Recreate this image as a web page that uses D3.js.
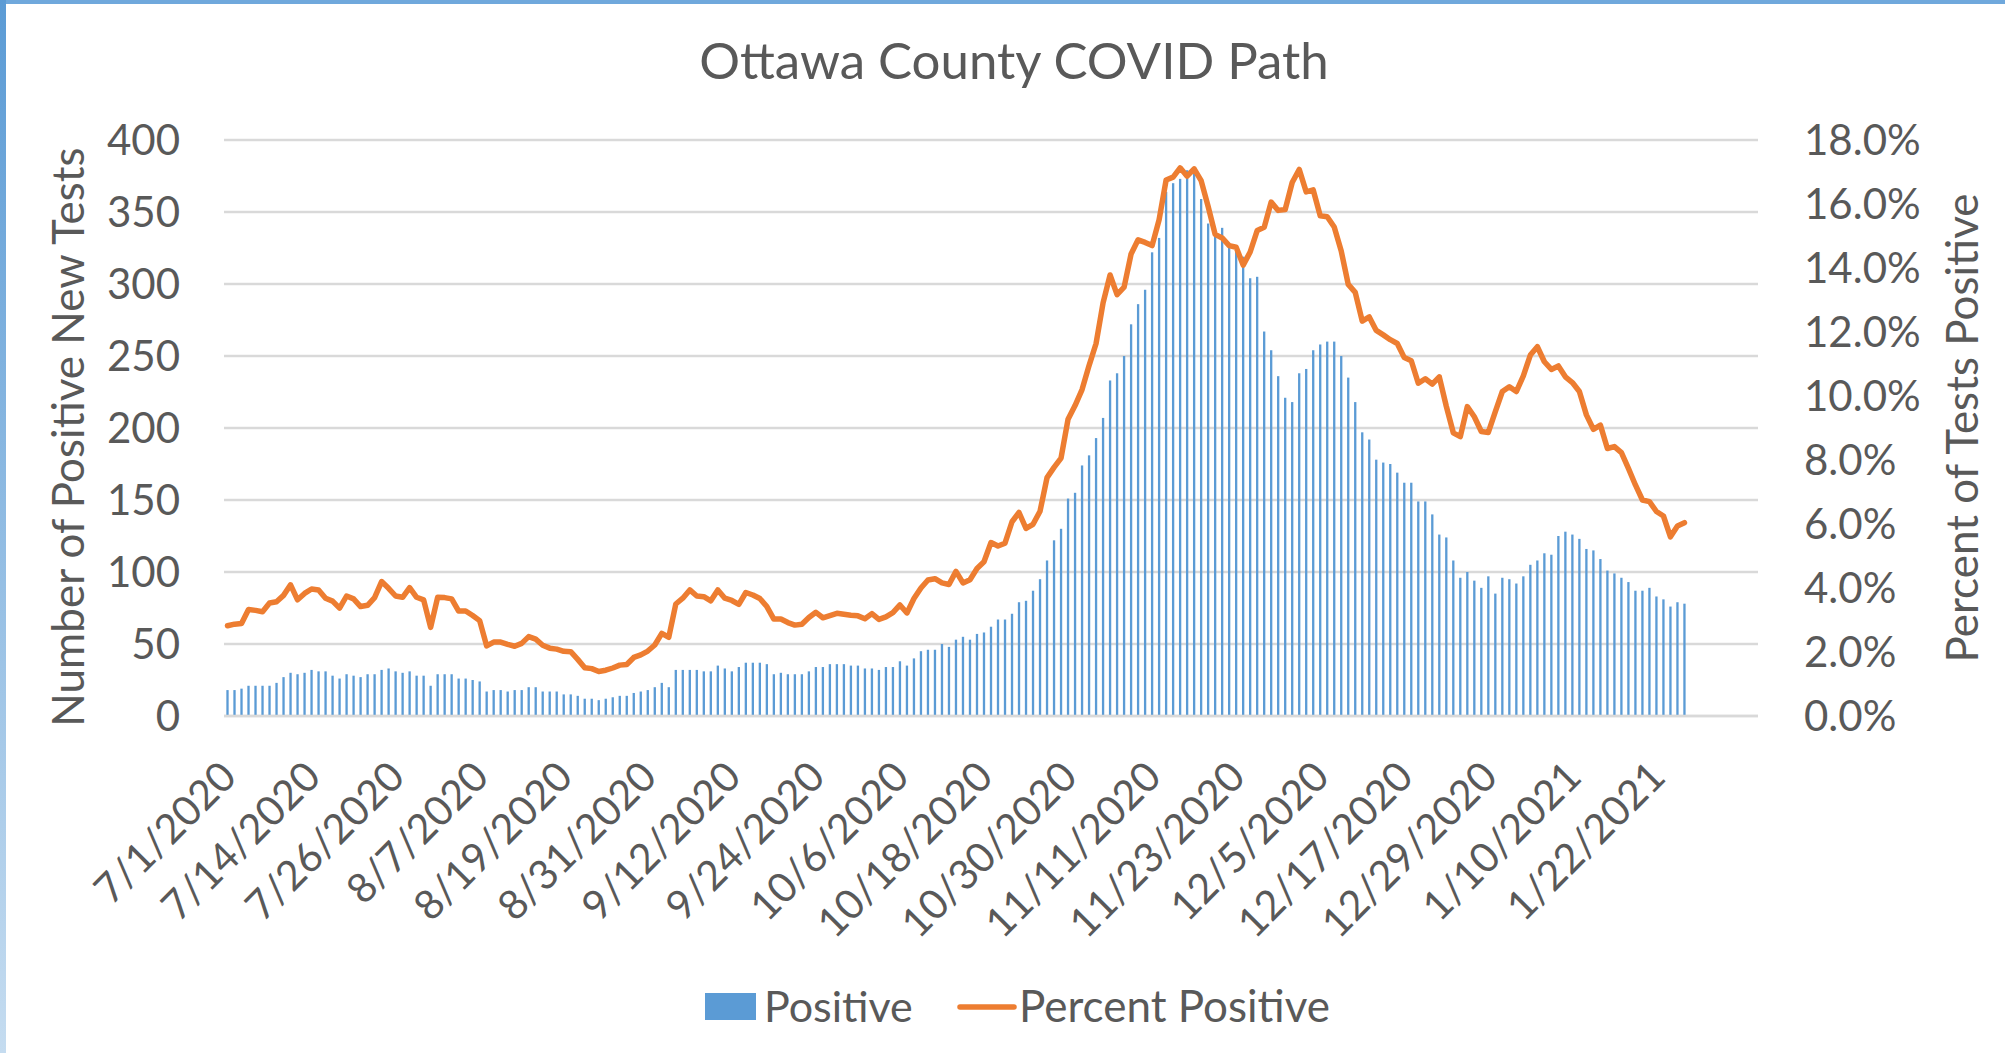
<!DOCTYPE html>
<html>
<head>
<meta charset="utf-8">
<script src="https://cdn.jsdelivr.net/npm/d3@7"></script>
<style>
  html, body { margin: 0; padding: 0; background: #ffffff; }
  svg { display: block; }
  text { font-family: Lato, "Open Sans", sans-serif; fill: #595959; }
</style>
</head>
<body>
<svg id="chart" width="2005" height="1053"></svg>
<script>
// ---------------- DATA ----------------
const categories = [
  "7/1/2020","7/2/2020","7/3/2020","7/5/2020","7/6/2020","7/7/2020","7/8/2020","7/9/2020","7/10/2020","7/11/2020",
  "7/12/2020","7/13/2020","7/14/2020","7/15/2020","7/16/2020","7/17/2020","7/18/2020","7/19/2020","7/20/2020","7/21/2020",
  "7/22/2020","7/23/2020","7/24/2020","7/25/2020","7/26/2020","7/27/2020","7/28/2020","7/29/2020","7/30/2020","7/31/2020",
  "8/1/2020","8/2/2020","8/3/2020","8/4/2020","8/5/2020","8/6/2020","8/7/2020","8/8/2020","8/9/2020","8/10/2020",
  "8/11/2020","8/12/2020","8/13/2020","8/14/2020","8/15/2020","8/16/2020","8/17/2020","8/18/2020","8/19/2020","8/20/2020",
  "8/21/2020","8/22/2020","8/23/2020","8/24/2020","8/25/2020","8/26/2020","8/27/2020","8/28/2020","8/29/2020","8/30/2020",
  "8/31/2020","9/1/2020","9/2/2020","9/3/2020","9/4/2020","9/5/2020","9/6/2020","9/7/2020","9/8/2020","9/9/2020",
  "9/10/2020","9/11/2020","9/12/2020","9/13/2020","9/14/2020","9/15/2020","9/16/2020","9/17/2020","9/18/2020","9/19/2020",
  "9/20/2020","9/21/2020","9/22/2020","9/23/2020","9/24/2020","9/25/2020","9/26/2020","9/27/2020","9/28/2020","9/29/2020",
  "9/30/2020","10/1/2020","10/2/2020","10/3/2020","10/4/2020","10/5/2020","10/6/2020","10/7/2020","10/8/2020","10/9/2020",
  "10/10/2020","10/11/2020","10/12/2020","10/13/2020","10/14/2020","10/15/2020","10/16/2020","10/17/2020","10/18/2020","10/19/2020",
  "10/20/2020","10/21/2020","10/22/2020","10/23/2020","10/24/2020","10/25/2020","10/26/2020","10/27/2020","10/28/2020","10/29/2020",
  "10/30/2020","10/31/2020","11/1/2020","11/2/2020","11/3/2020","11/4/2020","11/5/2020","11/6/2020","11/7/2020","11/8/2020",
  "11/9/2020","11/10/2020","11/11/2020","11/12/2020","11/13/2020","11/14/2020","11/15/2020","11/16/2020","11/17/2020","11/18/2020",
  "11/19/2020","11/20/2020","11/21/2020","11/22/2020","11/23/2020","11/24/2020","11/25/2020","11/26/2020","11/27/2020","11/28/2020",
  "11/29/2020","11/30/2020","12/1/2020","12/2/2020","12/3/2020","12/4/2020","12/5/2020","12/6/2020","12/7/2020","12/8/2020",
  "12/9/2020","12/10/2020","12/11/2020","12/12/2020","12/13/2020","12/14/2020","12/15/2020","12/16/2020","12/17/2020","12/18/2020",
  "12/19/2020","12/20/2020","12/21/2020","12/22/2020","12/23/2020","12/24/2020","12/25/2020","12/26/2020","12/27/2020","12/28/2020",
  "12/29/2020","12/30/2020","12/31/2020","1/1/2021","1/2/2021","1/3/2021","1/4/2021","1/5/2021","1/6/2021","1/7/2021",
  "1/8/2021","1/9/2021","1/10/2021","1/11/2021","1/12/2021","1/13/2021","1/14/2021","1/15/2021","1/16/2021","1/17/2021",
  "1/18/2021","1/19/2021","1/20/2021","1/21/2021","1/22/2021","1/23/2021","1/24/2021","1/25/2021","1/26/2021",
  "","","","","","","","","",""
];

const positive = [
  18,18,19,21,21,21,21,23,27,30,
  29,30,32,31,31,28,26,29,28,27,
  29,29,32,33,31,30,31,28,28,21,
  29,29,29,26,26,25,24,17,18,18,
  17,18,18,20,20,17,17,17,15,15,
  14,12,12,11,12,13,14,14,16,17,
  18,20,23,20,32,32,32,32,31,31,
  35,33,31,34,37,37,37,36,29,30,
  29,29,29,31,34,34,36,36,36,35,
  35,33,33,32,34,34,38,35,40,45,
  46,46,50,48,53,55,53,57,58,62,
  67,67,71,79,80,87,95,108,122,130,
  151,155,174,181,193,207,233,238,250,272,
  286,296,322,332,364,370,373,379,377,359,
  342,334,339,328,325,319,304,305,267,254,
  236,221,218,238,241,254,258,260,260,250,
  235,218,197,192,178,176,175,169,162,162,
  149,149,140,126,124,108,96,100,94,89,
  97,85,96,95,92,97,105,108,113,112,
  125,128,126,123,116,115,109,101,99,96,
  93,87,87,89,83,81,76,79,78
];

const percentPositive = [
  2.82,2.87,2.89,3.33,3.30,3.26,3.53,3.57,3.77,4.10,
  3.63,3.83,3.97,3.94,3.68,3.59,3.37,3.75,3.66,3.42,
  3.46,3.70,4.20,3.99,3.75,3.71,4.01,3.71,3.63,2.77,
  3.71,3.70,3.66,3.28,3.28,3.14,2.98,2.19,2.31,2.31,
  2.24,2.18,2.27,2.48,2.40,2.21,2.12,2.09,2.02,2.01,
  1.77,1.51,1.48,1.39,1.43,1.50,1.59,1.61,1.83,1.91,
  2.03,2.22,2.58,2.46,3.50,3.68,3.94,3.75,3.73,3.60,
  3.94,3.68,3.61,3.49,3.86,3.78,3.67,3.42,3.03,3.03,
  2.92,2.84,2.87,3.08,3.24,3.07,3.14,3.21,3.18,3.15,
  3.13,3.04,3.20,3.02,3.10,3.23,3.47,3.22,3.67,4.00,
  4.25,4.29,4.16,4.11,4.52,4.16,4.26,4.61,4.82,5.42,
  5.31,5.40,6.07,6.36,5.86,5.99,6.40,7.45,7.77,8.06,
  9.27,9.70,10.20,10.95,11.64,12.91,13.78,13.17,13.40,14.44,
  14.88,14.80,14.70,15.51,16.75,16.84,17.13,16.87,17.10,16.73,
  15.92,15.05,14.94,14.70,14.65,14.09,14.50,15.17,15.27,16.06,
  15.80,15.83,16.67,17.08,16.38,16.44,15.63,15.60,15.28,14.53,
  13.49,13.24,12.34,12.47,12.05,11.91,11.76,11.64,11.20,11.10,
  10.40,10.54,10.37,10.60,9.68,8.85,8.73,9.67,9.35,8.89,
  8.86,9.51,10.14,10.29,10.14,10.63,11.28,11.54,11.07,10.83,
  10.94,10.60,10.42,10.14,9.41,8.96,9.09,8.36,8.42,8.23,
  7.74,7.22,6.75,6.70,6.39,6.25,5.60,5.94,6.04
];

const tickLabels = ["7/1/2020","7/14/2020","7/26/2020","8/7/2020","8/19/2020","8/31/2020","9/12/2020",
  "9/24/2020","10/6/2020","10/18/2020","10/30/2020","11/11/2020","11/23/2020","12/5/2020",
  "12/17/2020","12/29/2020","1/10/2021","1/22/2021"];
const leftTicks = [0, 50, 100, 150, 200, 250, 300, 350, 400];
const rightTicks = [0, 2, 4, 6, 8, 10, 12, 14, 16, 18];

const chartTitle = "Ottawa County COVID Path";
const leftTitle = "Number of Positive New Tests";
const rightTitle = "Percent of Tests Positive";
const seriesNames = ["Positive", "Percent Positive"];

// ---------------- LAYOUT ----------------
const W = 2005, H = 1053;
const plot = { left: 224, right: 1758, top: 140, bottom: 716 };
const blue = "#5b9bd5", orange = "#ed7d31", grid = "#d9d9d9";

const svg = d3.select("#chart");

// frame accents (blue edges of original slide capture)
const defs = svg.append("defs");
const lg = defs.append("linearGradient").attr("id", "edgeGrad").attr("x1", 0).attr("y1", 0).attr("x2", 0).attr("y2", 1);
lg.append("stop").attr("offset", "0%").attr("stop-color", "#5b9bd5");
lg.append("stop").attr("offset", "100%").attr("stop-color", "#c5dcf0");
svg.append("rect").attr("x", 0).attr("y", 0).attr("width", W).attr("height", 4).attr("fill", "#6fa8dc");
svg.append("rect").attr("x", 0).attr("y", 0).attr("width", 6).attr("height", H).attr("fill", "url(#edgeGrad)");

// scales
const x = d3.scaleBand()
  .domain(d3.range(categories.length))
  .range([plot.left, plot.right])
  .paddingInner(0.67)
  .paddingOuter(0.335);

const yL = d3.scaleLinear().domain([0, 400]).range([plot.bottom, plot.top]);
const yR = d3.scaleLinear().domain([0, 18]).range([plot.bottom, plot.top]);

// gridlines
svg.append("g")
  .selectAll("line")
  .data(leftTicks)
  .join("line")
  .attr("x1", plot.left).attr("x2", plot.right)
  .attr("y1", d => yL(d)).attr("y2", d => yL(d))
  .attr("stroke", grid).attr("stroke-width", 2.5);

// bars
svg.append("g")
  .selectAll("rect")
  .data(positive)
  .join("rect")
  .attr("x", (d, i) => x(i))
  .attr("width", x.bandwidth())
  .attr("y", d => yL(d))
  .attr("height", d => yL(0) - yL(d))
  .attr("fill", blue);

// line
const line = d3.line()
  .x((d, i) => x(i) + x.bandwidth() / 2)
  .y(d => yR(d))
  .curve(d3.curveLinear);
svg.append("path")
  .datum(percentPositive)
  .attr("d", line)
  .attr("fill", "none")
  .attr("stroke", orange)
  .attr("stroke-width", 5.5)
  .attr("stroke-linejoin", "round")
  .attr("stroke-linecap", "round");

// left axis
const leftAxis = d3.axisLeft(yL).tickValues(leftTicks).tickSize(0).tickPadding(0).tickFormat(d3.format("d"));
const gL = svg.append("g").attr("transform", `translate(${plot.left - 44},0)`).call(leftAxis);
gL.select(".domain").remove();
gL.selectAll("text").style("font-size", "42px").attr("fill", "#595959").attr("dy", "0.35em");

// right axis
const rightAxis = d3.axisRight(yR).tickValues(rightTicks).tickSize(0).tickPadding(0).tickFormat(d => d.toFixed(1) + "%");
const gR = svg.append("g").attr("transform", `translate(${plot.right + 46},0)`).call(rightAxis);
gR.select(".domain").remove();
gR.selectAll("text").style("font-size", "42px").attr("fill", "#595959").attr("dy", "0.35em");

// x axis labels
const xAxis = d3.axisBottom(x)
  .tickValues(d3.range(categories.length).filter(i => tickLabels.includes(categories[i])))
  .tickSize(0).tickPadding(0)
  .tickFormat(i => categories[i]);
const gX = svg.append("g").attr("transform", `translate(0,${plot.bottom})`).call(xAxis);
gX.select(".domain").attr("stroke", grid).attr("stroke-width", 2.5).attr("d", `M${plot.left},0H${plot.right}`);
gX.selectAll(".tick text")
  .style("font-size", "41px")
  .attr("fill", "#595959")
  .attr("text-anchor", "end")
  .attr("y", 0)
  .attr("dy", "0.35em")
  .attr("transform", "translate(1,53) rotate(-45)");

// title
svg.append("text")
  .attr("x", 1014).attr("y", 79)
  .attr("text-anchor", "middle")
  .style("font-size", "51px")
  .text(chartTitle);

// axis titles
svg.append("text")
  .attr("transform", `translate(84,437) rotate(-90)`)
  .attr("text-anchor", "middle")
  .style("font-size", "44px")
  .text(leftTitle);
svg.append("text")
  .attr("transform", `translate(1978,428) rotate(-90)`)
  .attr("text-anchor", "middle")
  .style("font-size", "44px")
  .text(rightTitle);

// legend
const legend = svg.append("g");
legend.append("rect").attr("x", 705).attr("y", 993).attr("width", 51).attr("height", 27).attr("fill", blue);
legend.append("text").attr("x", 764).attr("y", 1007).attr("dy", "0.35em").style("font-size", "43px").text(seriesNames[0]);
legend.append("line").attr("x1", 960).attr("x2", 1014).attr("y1", 1007).attr("y2", 1007)
  .attr("stroke", orange).attr("stroke-width", 5.5).attr("stroke-linecap", "round");
legend.append("text").attr("x", 1019).attr("y", 1007).attr("dy", "0.35em").style("font-size", "44px").text(seriesNames[1]);
</script>
</body>
</html>
